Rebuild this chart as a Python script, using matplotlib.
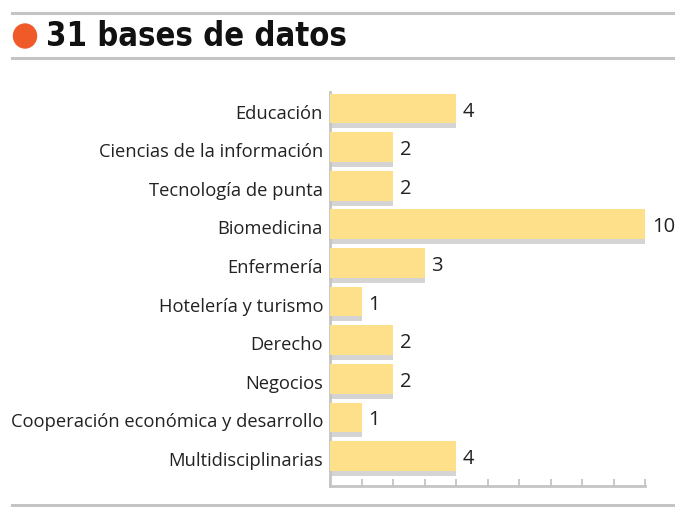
import numpy as np
import matplotlib.pyplot as plt
from matplotlib.lines import Line2D
from matplotlib.patches import Ellipse

# datos
categorias = ["Educación", "Ciencias de la información", "Tecnología de punta",
              "Biomedicina", "Enfermería", "Hotelería y turismo", "Derecho",
              "Negocios", "Cooperación económica y desarrollo", "Multidisciplinarias"]
valores = [4, 2, 2, 10, 3, 1, 2, 2, 1, 4]
titulo = "31 bases de datos"

AMARILLO = "#FFE08A"
SOMBRA = "#D4D4D4"
GRIS = "#C4C4C4"

W, H = 675, 507
fig = plt.figure(figsize=(W / 100, H / 100), dpi=100)

def fx(px):
    return px / W

def fy(py):
    return 1 - py / H

# ejes: x=0 en px 330, x=10 en px 645; de y=92 a y=486
ax = fig.add_axes([fx(330), fy(486), fx(645) - fx(330), fy(92) - fy(486)])

y = np.arange(len(categorias))
alto = 0.77
desfase = 0.13
ax.barh(y + desfase, valores, height=alto, color=SOMBRA, zorder=2)
ax.barh(y, valores, height=alto, color=AMARILLO, zorder=3)

for yi, v in zip(y, valores):
    ax.text(v + 0.22, yi + 0.08, str(v), va="center", ha="left",
            fontsize=14.5, family="Open Sans", color="#222222")

ax.set_xlim(0, 10)
ax.set_ylim(9.777, -0.427)
ax.set_yticks(y + 0.08)
ax.set_yticklabels(categorias, fontsize=13.2, family="Open Sans", color="#222222")
ax.tick_params(axis="y", length=0, pad=5)
ax.set_xticks(np.arange(0, 11))
ax.set_xticklabels([])
ax.tick_params(axis="x", direction="in", length=5, width=1.3, color=GRIS)
for s in ["top", "right"]:
    ax.spines[s].set_visible(False)
for s in ["left", "bottom"]:
    ax.spines[s].set_color(GRIS)
    ax.spines[s].set_linewidth(2)
ax.set_facecolor("none")

# cabecera
for py in (13, 58, 505):
    fig.add_artist(Line2D([fx(12), 1], [fy(py), fy(py)], color=GRIS, lw=2.2,
                          transform=fig.transFigure))
fig.add_artist(Ellipse((fx(25), fy(36)), fx(23), 24 / H, color="#F05A28",
                       transform=fig.transFigure))
fig.text(fx(46), fy(36), titulo, fontsize=23.5, fontweight="bold",
         fontstretch="condensed", family="DejaVu Sans", va="center", ha="left",
         color="#111111")

fig.savefig("out.png", dpi=100)
